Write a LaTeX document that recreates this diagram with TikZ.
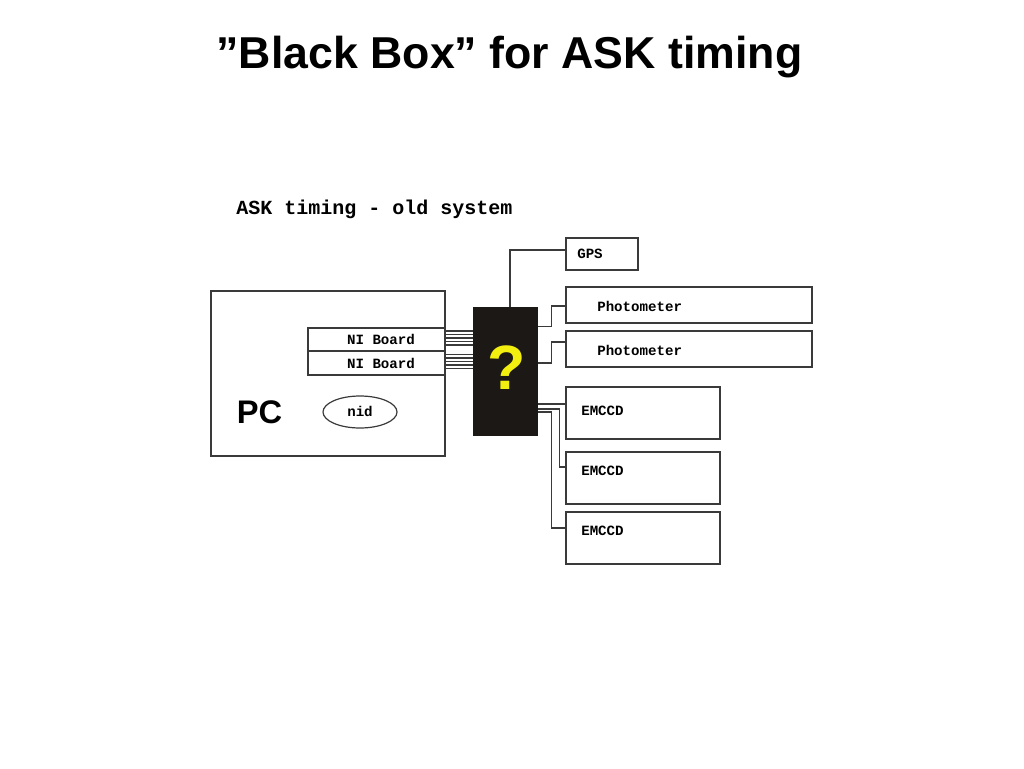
\documentclass[tikz,border=0pt]{standalone}
\usepackage{fontspec}
\setmainfont{Liberation Sans}
\setmonofont{Liberation Mono}
\usepackage{tikz}
\usetikzlibrary{calc,shapes.geometric}
\definecolor{wire}{HTML}{3A3A3A}
\definecolor{boxfill}{HTML}{1C1816}
\definecolor{qyellow}{HTML}{F2EE10}
\tikzset{
	unit/.style={draw=wire, line width=0.9pt, rectangle, inner sep=0pt},
	lbl/.style={font=\ttfamily\bfseries\fontsize{10.6pt}{12pt}\selectfont, inner sep=0pt, anchor=west},
	wireline/.style={draw=wire, line width=1pt}
}

\begin{document}
\begin{tikzpicture}[x=0.75pt, y=-0.75pt]
			%%%%% START %%%%%
			
			\useasboundingbox (0, 0) rectangle (1024, 768);
			
			\node[font=\bfseries\fontsize{33.5pt}{38pt}\selectfont, anchor=base, inner sep=0pt] (title) at (509.5, 68) {”Black Box” for ASK timing};
			\node[font=\ttfamily\bfseries\fontsize{15pt}{18pt}\selectfont, anchor=west, inner sep=0pt] (sub) at (236, 209) {ASK timing - old system};
			
			\node[unit, minimum width=175.5pt, minimum height=123.75pt] (pc) at (328, 373.5) {};
			\node[font=\bfseries\fontsize{24.5pt}{28pt}\selectfont, inner sep=0pt] (pclbl) at (259.5, 412) {PC};
			\node[unit, minimum width=102.75pt, minimum height=17.25pt] (ni1) at (376.5, 339.5) {};
			\node[unit, minimum width=102.75pt, minimum height=18pt] (ni2) at (376.5, 363) {};
			\node[lbl, anchor=center] at (381, 339) {NI Board};
			\node[lbl, anchor=center] at (381, 363) {NI Board};
			\node[draw=wire, line width=0.9pt, ellipse, minimum width=55.5pt, minimum height=24pt, inner sep=0pt] (nid) at (360, 412) {};
			\node[lbl, anchor=center] at (360, 411) {nid};
			
			\node[rectangle, fill=boxfill, minimum width=48.75pt, minimum height=96.75pt, inner sep=0pt] (bb) at (505.5, 371.5) {};
			\node[font=\bfseries\fontsize{47pt}{50pt}\selectfont, text=qyellow, inner sep=0pt] (qm) at (507, 368) {?};
			
			\node[unit, minimum width=54pt, minimum height=24pt] (gps) at (602, 254) {};
			\node[lbl] at (577, 254) {GPS};
			\node[unit, minimum width=184.5pt, minimum height=27pt] (ph1) at (689, 305) {};
			\node[lbl] at (597, 306) {Photometer};
			\node[unit, minimum width=184.5pt, minimum height=27pt] (ph2) at (689, 349) {};
			\node[lbl] at (597, 350) {Photometer};
			
			\node[unit, minimum width=115.5pt, minimum height=39pt] (em1) at (643, 413) {};
			\node[lbl] at (581, 411) {EMCCD};
			\node[unit, minimum width=115.5pt, minimum height=39pt] (em2) at (643, 478) {};
			\node[lbl] at (581, 471) {EMCCD};
			\node[unit, minimum width=115.5pt, minimum height=39pt] (em3) at (643, 538) {};
			\node[lbl] at (581, 531) {EMCCD};
			
			% board cables
			\foreach \dy in {-8.5, -5, -1.5, 2, 5.5} {
				\draw[wireline] ($(ni1.east)+(0,\dy)$) -- ($(ni1.east -| bb.west)+(0,\dy)$);
				\draw[wireline] ($(ni2.east)+(0,\dy)$) -- ($(ni2.east -| bb.west)+(0,\dy)$);
			}
			
			\draw[wireline] ($(bb.north)+(4.5,0)$) |- ($(gps.west)+(0,-4)$);
			\draw[wireline] ($(bb.east)+(0,-45)$) -- ++(13,0) |- ($(ph1.west)+(0,1)$);
			\draw[wireline] ($(bb.east)+(0,-8.5)$) -- ++(13,0) |- ($(ph2.west)+(0,-7)$);
			\draw[wireline] ($(bb.east)+(0,32.5)$) -- ($(em1.west)+(0,-9)$);
			\draw[wireline] ($(bb.east)+(0,37.5)$) -- ++(21,0) |- ($(em2.west)+(0,-11)$);
			\draw[wireline] ($(bb.east)+(0,40.5)$) -- ++(13,0) |- ($(em3.west)+(0,-10)$);
			
			%%%%% END %%%%%
		\end{tikzpicture}
\end{document}
